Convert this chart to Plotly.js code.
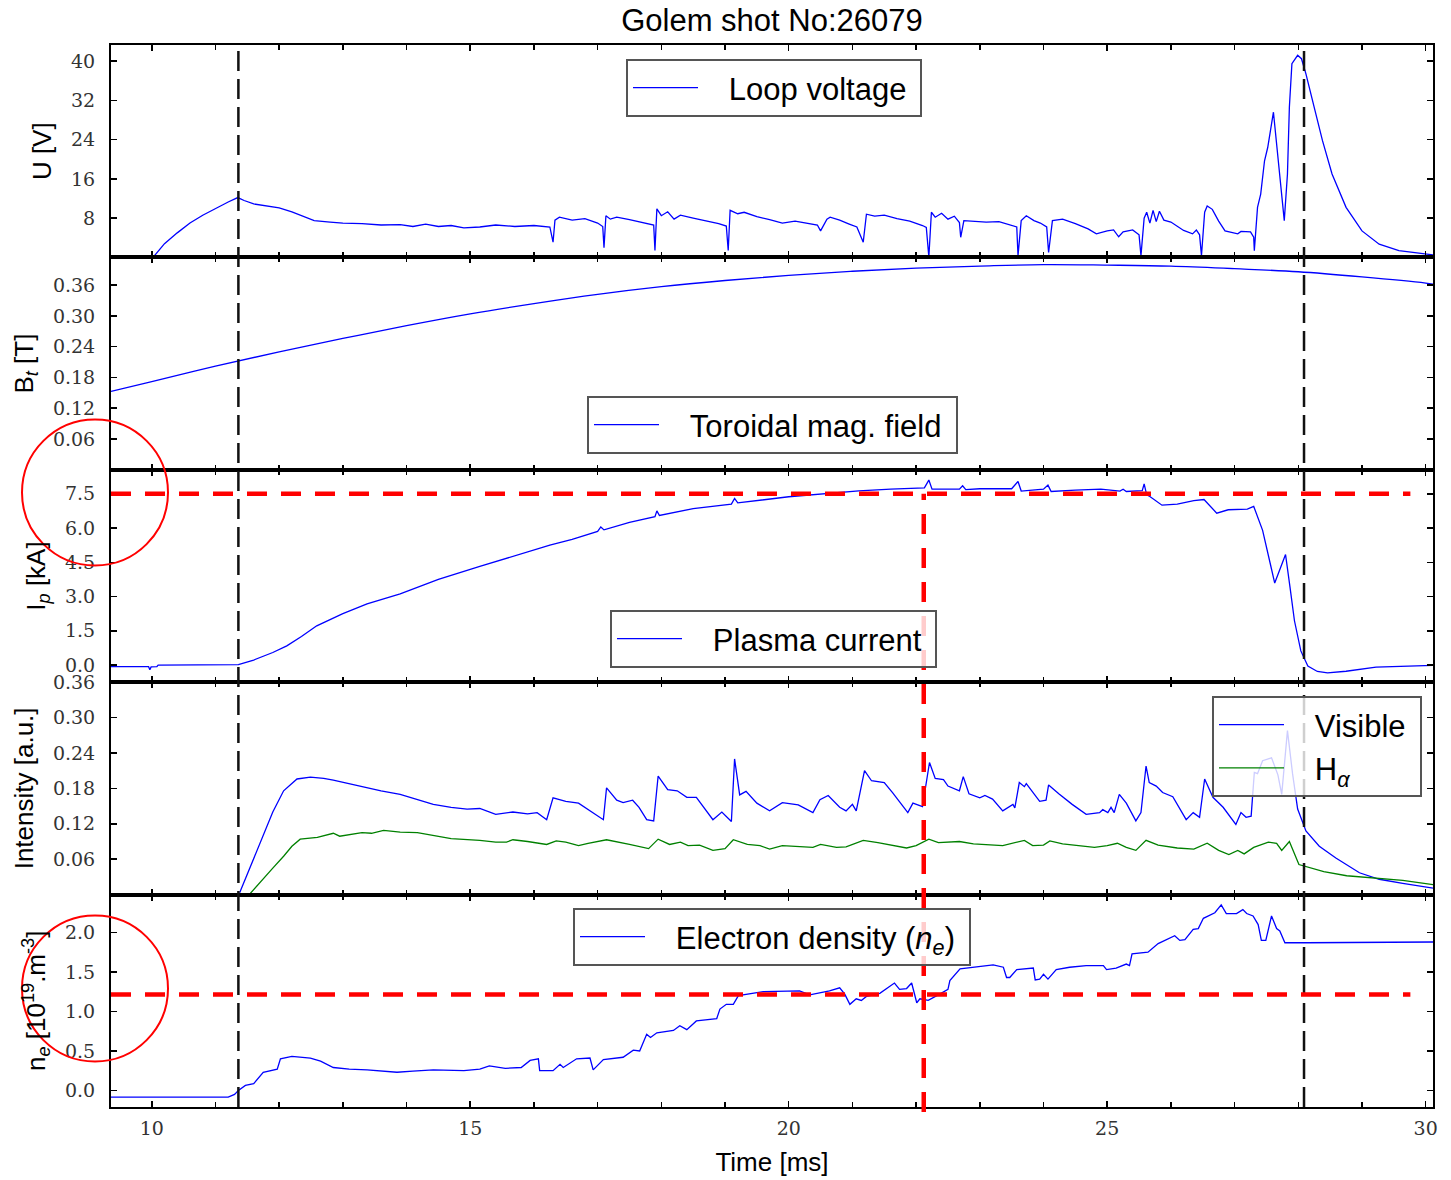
<!DOCTYPE html>
<html>
<head>
<meta charset="utf-8">
<script src="https://cdn.plot.ly/plotly-3.0.1.min.js"></script>
<style>html,body{margin:0;padding:0;background:#fff}</style>
</head>
<body>
<div id="chart" style="width:1451px;height:1180px"></div>
<script>
// ---------------- DATA ----------------
const shotTitle = 'Golem shot No:26079';

// Loop voltage U [V]
const uTime = [10.02,10.2,10.4,10.6,10.8,11.0,11.2,11.35,11.45,11.6,11.8,12.0,12.2,12.4,12.55,12.8,13.0,13.3,13.6,13.9,14.1,14.3,14.5,14.7,14.9,15.15,15.4,15.7,16.0,16.25,16.3,16.33,16.4,16.6,16.8,17.0,17.08,17.1,17.13,17.2,17.3,17.5,17.7,17.88,17.9,17.93,18.0,18.1,18.2,18.3,18.5,18.7,18.9,19.02,19.05,19.08,19.2,19.3,19.5,19.7,19.9,20.1,20.3,20.45,20.5,20.6,20.65,20.8,20.95,21.07,21.17,21.22,21.35,21.5,21.7,21.9,22.1,22.16,22.2,22.24,22.3,22.4,22.5,22.6,22.68,22.7,22.75,22.9,23.1,23.3,23.5,23.58,23.6,23.65,23.73,23.85,23.95,24.05,24.08,24.14,24.3,24.5,24.7,24.83,25.0,25.1,25.18,25.25,25.4,25.5,25.53,25.58,25.62,25.67,25.72,25.77,25.82,25.89,26.0,26.2,26.34,26.4,26.45,26.48,26.53,26.57,26.65,26.75,26.85,26.95,27.05,27.1,27.25,27.3,27.31,27.36,27.41,27.47,27.52,27.61,27.7,27.78,27.83,27.86,27.9,27.99,28.05,28.12,28.25,28.38,28.53,28.75,29.0,29.27,29.58,30.0,30.115];
const uVolt = [0,2.8,5.0,7.0,8.6,10.0,11.3,12.2,11.6,10.9,10.5,10.1,9.3,8.2,7.5,7.2,7.0,6.9,6.6,6.7,6.3,6.8,6.3,6.5,6.0,6.2,6.6,6.3,6.5,6.2,3.1,7.6,8.2,7.6,7.9,7.0,6.3,2.0,8.5,7.8,8.2,7.7,7.2,6.6,1.4,9.9,8.5,9.3,7.8,8.6,8.0,7.5,6.9,6.4,1.4,9.6,8.9,9.2,8.3,7.7,7.0,7.4,7.0,6.6,5.4,7.8,8.2,7.6,6.8,6.2,3.1,8.8,8.4,8.6,7.9,7.4,6.5,6.1,0.1,9.2,8.2,9.0,7.8,8.4,7.1,4.1,7.5,7.4,7.2,7.3,6.5,6.2,0.35,7.5,8.5,7.5,7.0,6.2,1.0,7.5,7.8,6.9,5.8,4.8,5.4,5.6,4.2,5.2,5.6,4.6,0.35,8.0,9.2,7.0,9.6,7.3,9.4,7.6,7.2,5.5,4.8,5.6,4.6,0.35,9.2,10.5,9.8,7.4,5.4,5.1,4.8,5.3,5.2,4.1,1.35,10.2,12.9,19.7,22.4,29.6,18,7.5,17,30.6,39.5,41.2,40.5,37.4,30.6,23.8,17,10.2,5.4,2.7,1.4,0.7,0.5];

// Toroidal magnetic field B_t [T]
const btTime = [9.36,10,11,12,13,14,15,16,17,18,19,20,21,22,23,24,25,26,27,28,29,30,30.115];
const btField = [0.153,0.172,0.202,0.23,0.256,0.281,0.304,0.324,0.342,0.357,0.369,0.379,0.387,0.393,0.397,0.4,0.399,0.397,0.392,0.386,0.376,0.364,0.362];

// Plasma current I_p [kA]
const ipTime = [9.36,9.95,9.97,9.99,10.08,10.1,11.36,11.6,11.9,12.12,12.35,12.59,13.0,13.38,13.9,14.5,15.15,15.7,16.25,16.6,17.0,17.05,17.1,17.5,17.9,17.93,17.97,18.5,19.1,19.15,19.2,20.0,20.5,21.1,21.6,22.13,22.2,22.25,22.68,22.73,22.78,23.0,23.5,23.6,23.65,24.0,24.07,24.12,24.5,24.9,25.2,25.25,25.3,25.55,25.58,25.62,25.67,25.86,26.1,26.36,26.52,26.72,26.9,27.2,27.3,27.44,27.63,27.8,27.87,27.94,28.04,28.15,28.3,28.46,28.75,29.22,30.115];
const ipCurrent = [-0.07,-0.07,-0.2,-0.08,-0.07,0.0,0.02,0.22,0.55,0.84,1.25,1.72,2.25,2.68,3.12,3.75,4.32,4.8,5.25,5.5,5.85,6.05,5.92,6.25,6.5,6.75,6.55,6.85,7.05,7.3,7.1,7.37,7.5,7.63,7.7,7.76,8.1,7.7,7.7,7.85,7.68,7.72,7.72,8.04,7.62,7.7,7.88,7.6,7.66,7.7,7.62,7.7,7.6,7.64,7.93,7.45,7.38,7.0,7.05,7.2,7.25,6.65,6.8,6.83,6.95,5.9,3.59,4.84,3.41,1.94,0.62,-0.04,-0.28,-0.34,-0.27,-0.09,-0.01];

// Visible light intensity [a.u.]
const visTime = [11.38,11.5,11.7,11.9,12.07,12.28,12.49,12.7,12.85,13.1,13.38,13.6,13.9,14.2,14.42,14.7,14.95,15.15,15.4,15.67,15.9,16.05,16.2,16.3,16.5,16.7,16.9,17.09,17.14,17.3,17.4,17.55,17.65,17.77,17.88,17.95,18.1,18.25,18.4,18.55,18.81,18.95,19.1,19.15,19.23,19.33,19.5,19.7,19.9,20.15,20.38,20.49,20.62,20.8,20.9,21.0,21.06,21.19,21.3,21.5,21.63,21.87,21.95,22.1,22.21,22.3,22.43,22.5,22.68,22.74,22.83,23.0,23.08,23.2,23.36,23.52,23.55,23.62,23.7,23.73,23.94,24.04,24.08,24.24,24.45,24.67,24.88,24.93,25.01,25.06,25.11,25.19,25.3,25.45,25.53,25.61,25.66,25.77,25.87,26.03,26.24,26.35,26.45,26.53,26.66,26.82,27.02,27.1,27.18,27.26,27.31,27.36,27.44,27.58,27.68,27.74,27.83,27.91,27.99,28.12,28.33,28.59,28.96,29.27,29.64,30.115];
const visInt = [0.003,0.035,0.088,0.14,0.176,0.196,0.199,0.197,0.194,0.188,0.181,0.176,0.17,0.16,0.153,0.148,0.145,0.146,0.136,0.14,0.137,0.139,0.127,0.164,0.158,0.155,0.14,0.127,0.181,0.16,0.156,0.16,0.148,0.127,0.125,0.201,0.178,0.176,0.165,0.165,0.127,0.14,0.124,0.23,0.169,0.175,0.155,0.142,0.156,0.152,0.139,0.161,0.168,0.148,0.142,0.153,0.142,0.21,0.193,0.19,0.173,0.139,0.155,0.149,0.224,0.197,0.195,0.184,0.176,0.2,0.171,0.164,0.168,0.162,0.142,0.153,0.147,0.19,0.183,0.188,0.158,0.16,0.186,0.171,0.153,0.136,0.139,0.144,0.139,0.148,0.139,0.17,0.155,0.125,0.139,0.218,0.19,0.184,0.173,0.166,0.127,0.139,0.131,0.196,0.165,0.148,0.119,0.139,0.131,0.133,0.207,0.205,0.227,0.232,0.203,0.17,0.278,0.205,0.145,0.108,0.082,0.062,0.037,0.026,0.019,0.011];

// H-alpha intensity [a.u.]
const haTime = [11.53,11.65,11.75,11.9,12.07,12.2,12.33,12.6,12.85,12.95,13.3,13.45,13.64,13.9,14.17,14.43,14.7,15.15,15.4,15.57,15.67,15.9,16.2,16.35,16.5,16.7,16.85,17.14,17.35,17.5,17.8,17.95,18.13,18.3,18.42,18.6,18.81,19.0,19.13,19.35,19.55,19.7,19.9,20.15,20.38,20.5,20.75,20.9,21.17,21.4,21.85,22.0,22.2,22.35,22.68,22.9,23.1,23.36,23.7,23.83,24.0,24.1,24.3,24.5,24.8,25.0,25.16,25.3,25.45,25.61,25.8,26.1,26.36,26.57,26.75,26.91,27.05,27.15,27.3,27.53,27.66,27.74,27.86,28.01,28.2,28.4,28.76,29.15,29.64,30.115];
const haInt = [0.0,0.015,0.028,0.045,0.065,0.082,0.094,0.097,0.104,0.099,0.105,0.104,0.109,0.106,0.105,0.1,0.095,0.092,0.089,0.089,0.093,0.09,0.085,0.091,0.089,0.083,0.087,0.093,0.089,0.085,0.078,0.094,0.085,0.089,0.083,0.084,0.075,0.078,0.093,0.085,0.083,0.077,0.083,0.081,0.08,0.085,0.08,0.081,0.092,0.088,0.079,0.083,0.094,0.088,0.09,0.086,0.085,0.083,0.092,0.083,0.084,0.091,0.086,0.084,0.08,0.083,0.087,0.08,0.075,0.092,0.084,0.079,0.077,0.087,0.075,0.068,0.075,0.069,0.08,0.089,0.087,0.075,0.09,0.051,0.045,0.039,0.032,0.028,0.024,0.017];

// Electron density n_e [1e19 m^-3]
const neTime = [9.36,11.2,11.3,11.36,11.47,11.6,11.75,11.9,11.97,12.02,12.2,12.49,12.65,12.85,13.1,13.38,13.85,14.1,14.42,14.9,15.15,15.3,15.55,15.8,15.94,16.07,16.09,16.3,16.41,16.46,16.67,16.88,16.93,17.09,17.4,17.56,17.66,17.77,17.83,17.93,18.19,18.29,18.4,18.55,18.87,18.92,19.02,19.13,19.21,19.6,20.17,20.33,20.64,20.8,20.88,20.96,21.06,21.14,21.22,21.43,21.66,21.74,21.85,21.93,22.01,22.06,22.19,22.37,22.5,22.53,22.69,23.21,23.37,23.42,23.47,23.58,23.84,23.87,23.94,24.0,24.07,24.2,24.41,24.67,24.94,24.99,25.14,25.3,25.35,25.39,25.64,25.8,26.03,26.06,26.14,26.22,26.35,26.43,26.51,26.69,26.79,26.87,27.03,27.13,27.19,27.29,27.37,27.42,27.49,27.58,27.66,27.71,27.79,28.13,30.115];
const neDens = [-0.085,-0.085,-0.05,0.0,0.064,0.085,0.23,0.26,0.27,0.4,0.43,0.41,0.37,0.29,0.27,0.26,0.23,0.245,0.26,0.25,0.27,0.31,0.28,0.29,0.38,0.40,0.25,0.25,0.33,0.29,0.40,0.41,0.26,0.39,0.42,0.51,0.50,0.71,0.67,0.73,0.76,0.82,0.77,0.88,0.91,1.03,1.09,1.09,1.2,1.25,1.26,1.21,1.26,1.30,1.22,1.09,1.16,1.14,1.19,1.23,1.36,1.28,1.29,1.36,1.11,1.16,1.14,1.22,1.28,1.39,1.54,1.59,1.56,1.43,1.43,1.53,1.55,1.40,1.41,1.47,1.41,1.53,1.56,1.58,1.58,1.53,1.55,1.60,1.58,1.73,1.75,1.86,1.94,1.96,1.90,1.91,2.04,2.05,2.18,2.25,2.35,2.24,2.24,2.29,2.24,2.21,2.10,1.90,1.90,2.21,2.05,2.02,1.87,1.87,1.88];

// Tick labels
const xTickVals = [10,15,20,25,30];
const xTickText = ['10','15','20','25','30'];
const uTickVals = [8,16,24,32,40];
const uTickText = ['8','16','24','32','40'];
const btTickVals = [0.06,0.12,0.18,0.24,0.30,0.36];
const btTickText = ['0.06','0.12','0.18','0.24','0.30','0.36'];
const ipTickVals = [0,1.5,3,4.5,6,7.5];
const ipTickText = ['0.0','1.5','3.0','4.5','6.0','7.5'];
const inTickVals = [0.06,0.12,0.18,0.24,0.30,0.36];
const inTickText = ['0.06','0.12','0.18','0.24','0.30','0.36'];
const neTickVals = [0,0.5,1,1.5,2];
const neTickText = ['0.0','0.5','1.0','1.5','2.0'];

// Marked times / levels
const breakdownTime = [11.36, 28.09];   // black dashed verticals
const markTime = 22.12;                 // red dashed vertical
const ipLevel = 7.5;                    // red dashed level in I_p
const neLevel = 1.215;                  // red dashed level in n_e
const markEnd = 29.76;                  // end of red levels

// ---------------- LAYOUT ----------------
const W = 1451, H = 1180;
const M = {l:111, r:18, t:45, b:73};
const plotW = W - M.l - M.r, plotH = H - M.t - M.b;
const xRange = [9.36, 30.115];
const yRanges = [[0,43.3],[0,0.414],[-0.75,8.55],[0,0.3601],[-0.21,2.48]];
const n = 5;
const dom = i => [1 - (i+1)/n, 1 - i/n];
const pxX = px => (px - M.l) / plotW;
const pxY = py => (H - M.b - py) / plotH;

const sans = 'Liberation Sans, Arial, sans-serif';
const serif = 'DejaVu Serif, serif';
const blue = '#0000ff', green = '#008000';
const pad = s => '\u00a0\u00a0\u00a0' + s + '\u00a0';

const axisBase = {
  showline:true, linecolor:'#000', linewidth:2, mirror:'ticks',
  ticks:'inside', ticklen:6, tickwidth:1.5, tickcolor:'#000',
  showgrid:false, zeroline:false,
  tickfont:{family:serif, size:19, color:'#333'}
};

const layout = {
  width:W, height:H, margin:M, paper_bgcolor:'#fff', plot_bgcolor:'#fff',
  title:{text:shotTitle, font:{family:sans, size:31, color:'#000'},
         x:772/W, xanchor:'center', y:1-20/H, yanchor:'middle'},
  showlegend:true,
  shapes:[]
};

const yTitles = ['U [V]', 'B<sub><i>t</i></sub> [T]', 'I<sub><i>p</i></sub> [kA]',
                 'Intensity [a.u.]', 'n<sub><i>e</i></sub> [10<sup>19</sup>.m<sup>-3</sup>]'];
const yTicks = [[uTickVals,uTickText],[btTickVals,btTickText],[ipTickVals,ipTickText],
                [inTickVals,inTickText],[neTickVals,neTickText]];

for (let i = 0; i < n; i++) {
  const s = i === 0 ? '' : String(i+1);
  const xa = Object.assign({}, axisBase, {
    domain:[0,1], anchor:'y'+s, range:xRange,
    tickmode:'array', tickvals:xTickVals, ticktext:xTickText,
    showticklabels: i === n-1, ticklabelstandoff: 3,
    minor:{ticks:'inside', ticklen:5, tickwidth:1.5, tickcolor:'#000', dtick:1, tick0:10}
  });
  if (i === n-1) xa.title = {text:'Time [ms]', font:{family:sans, size:26, color:'#000'}, standoff:15};
  if (i > 0) xa.matches = 'x';
  layout['xaxis'+s] = xa;
  layout['yaxis'+s] = Object.assign({}, axisBase, {
    domain:dom(i), anchor:'x'+s, range:yRanges[i],
    tickmode:'array', tickvals:yTicks[i][0], ticktext:yTicks[i][1],
    ticklabelstandoff: 10,
    title:{text:yTitles[i], font:{family:sans, size:26, color:'#000'}, standoff:12}
  });
}

// legends
const legendBase = {
  bgcolor:'rgba(255,255,255,0.8)', bordercolor:'#555', borderwidth:2,
  font:{family:sans, size:31, color:'#000'},
  xanchor:'left', yanchor:'top', itemwidth:65, tracegroupgap:0
};
layout.legend  = Object.assign({}, legendBase, {x:pxX(626),  y:pxY(59)});
layout.legend2 = Object.assign({}, legendBase, {x:pxX(587),  y:pxY(396)});
layout.legend3 = Object.assign({}, legendBase, {x:pxX(610),  y:pxY(610)});
layout.legend4 = Object.assign({}, legendBase, {x:pxX(1212), y:pxY(696)});
layout.legend5 = Object.assign({}, legendBase, {x:pxX(573),  y:pxY(908)});

// black dashed verticals over all panels
breakdownTime.forEach(t => layout.shapes.push({
  type:'line', xref:'x', yref:'paper', x0:t, x1:t, y0:0, y1:1,
  line:{color:'#111', width:2.5, dash:'20px,8px'}
}));
// red dashed markers
const red = {color:'#ff0000', width:4.5, dash:'20px,14px'};
layout.shapes.push({type:'line', xref:'x', yref:'y3', x0:xRange[0], x1:markEnd, y0:ipLevel, y1:ipLevel, line:red});
layout.shapes.push({type:'line', xref:'x', yref:'y5', x0:xRange[0], x1:markEnd, y0:neLevel, y1:neLevel, line:red});
const ipPaper = dom(2)[0] + (ipLevel - yRanges[2][0]) / (yRanges[2][1]-yRanges[2][0]) * (1/n);
layout.shapes.push({type:'line', xref:'x', yref:'paper', x0:markTime, x1:markTime, y0:pxY(1112), y1:ipPaper, line:red});
// red circles around tick labels
[[95,492.5],[95,988.5]].forEach(c => layout.shapes.push({
  type:'circle', xref:'paper', yref:'paper',
  x0:pxX(c[0]-73), x1:pxX(c[0]+73), y0:pxY(c[1]+73), y1:pxY(c[1]-73),
  line:{color:'#ff0000', width:2}
}));

// ---------------- TRACES ----------------
const lw = 1.3;
const traces = [
  {x:uTime, y:uVolt, name:pad('Loop voltage'), xaxis:'x', yaxis:'y', legend:'legend', line:{color:blue, width:lw}},
  {x:btTime, y:btField, name:pad('Toroidal mag. field'), xaxis:'x2', yaxis:'y2', legend:'legend2', line:{color:blue, width:lw, shape:'spline'}},
  {x:ipTime, y:ipCurrent, name:pad('Plasma current'), xaxis:'x3', yaxis:'y3', legend:'legend3', line:{color:blue, width:lw}},
  {x:visTime, y:visInt, name:pad('Visible'), xaxis:'x4', yaxis:'y4', legend:'legend4', line:{color:blue, width:lw}},
  {x:haTime, y:haInt, name:pad('H<sub><i>α</i></sub>'), xaxis:'x4', yaxis:'y4', legend:'legend4', line:{color:green, width:lw}},
  {x:neTime, y:neDens, name:pad('Electron density (<i>n</i><sub><i>e</i></sub>)'), xaxis:'x5', yaxis:'y5', legend:'legend5', line:{color:blue, width:lw}}
].map(t => Object.assign({type:'scatter', mode:'lines', showlegend:true, hoverinfo:'skip'}, t));

Plotly.newPlot('chart', traces, layout, {displayModeBar:false, staticPlot:true});
</script>
</body>
</html>
